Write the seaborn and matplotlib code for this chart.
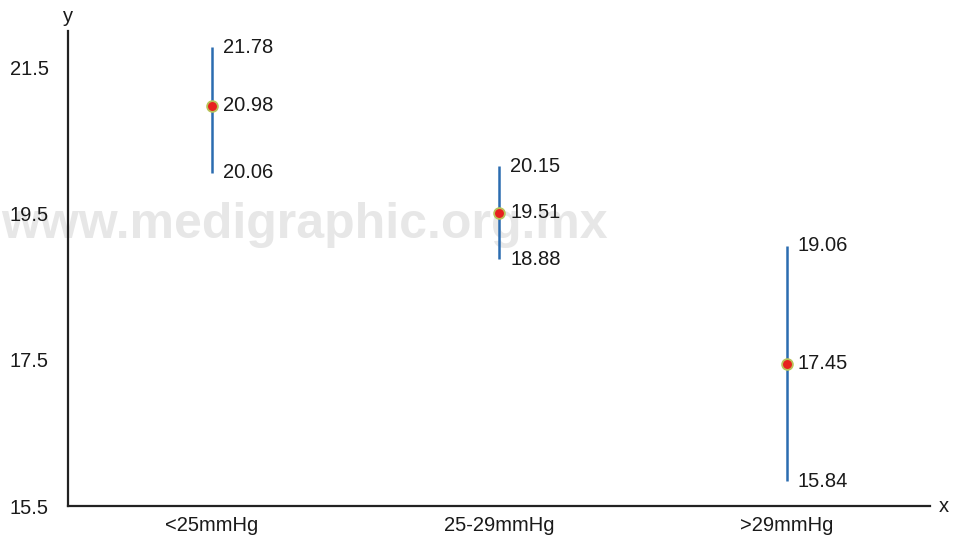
import matplotlib
matplotlib.use("Agg")
import matplotlib.pyplot as plt
import seaborn as sns
import pandas as pd

# Pressure groups and interval estimates
groups = ["<25mmHg", "25-29mmHg", ">29mmHg"]
means = [20.98, 19.51, 17.45]
lower = [20.06, 18.88, 15.84]
upper = [21.78, 20.15, 19.06]
yticks = [15.5, 17.5, 19.5, 21.5]

df = pd.DataFrame({"group": groups, "mean": means, "lower": lower, "upper": upper})

sns.set_theme(style="white")
plt.rcParams["font.family"] = ["Liberation Sans", "DejaVu Sans"]

fig = plt.figure(figsize=(9.58, 5.37), dpi=100)
ax = fig.add_axes([0.071, 0.0577, 0.90, 0.8845])

# Watermark, kept behind the data and the tick labels
ax.text(1 / 958, 1 - 238 / 537, "www.medigraphic.org.mx",
        transform=fig.transFigure, weight="bold", fontsize=36,
        color="#e7e7e7", ha="left", va="baseline", zorder=0.5, clip_on=False)

xpos = list(range(len(groups)))
ax.vlines(xpos, df["lower"], df["upper"], color="#2b6cb0", linewidth=1.8, zorder=2)
sns.scatterplot(data=df, x="group", y="mean", ax=ax, s=60, color="#e8211f",
                edgecolor="#b9c35a", linewidth=1.3, zorder=3, legend=False)

for i, row in df.iterrows():
    for v in (row["lower"], row["mean"], row["upper"]):
        ax.annotate(f"{v:.2f}", (i, v), xytext=(8, 0), textcoords="offset points",
                    ha="left", va="center", fontsize=14.5, color="#1a1a1a", zorder=4)

ax.set_xlim(-0.5, 2.5)
ax.set_ylim(15.5, 22.0)
ax.set_yticks(yticks)
ax.set_yticklabels([f"{t}" for t in yticks])
ax.tick_params(axis="y", length=0, pad=14, labelsize=14.5, labelcolor="#1a1a1a")
ax.tick_params(axis="x", length=0, pad=7, labelsize=14.5, labelcolor="#1a1a1a")
ax.set_xlabel("")
ax.set_ylabel("")

for side in ("top", "right"):
    ax.spines[side].set_visible(False)
for side in ("left", "bottom"):
    ax.spines[side].set_color("#222222")
    ax.spines[side].set_linewidth(1.6)

ax.text(0.0, 1.01, "y", transform=ax.transAxes, ha="center", va="bottom",
        fontsize=14.5, color="#1a1a1a")
ax.text(1.01, 0.0, "x", transform=ax.transAxes, ha="left", va="center",
        fontsize=14.5, color="#1a1a1a")

fig.savefig("out.png", dpi=100)
